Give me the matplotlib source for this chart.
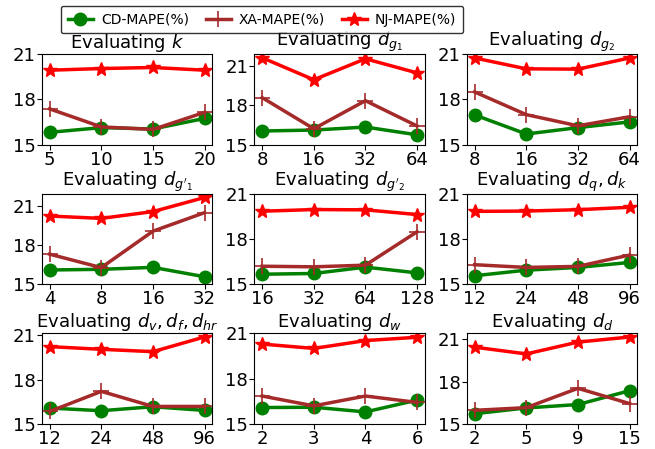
import numpy as np
import matplotlib
matplotlib.use('Agg')
import matplotlib.pyplot as plt

# hyper-parameter values for each panel
titles = ['Evaluating $k$', 'Evaluating $d_{g_1}$', 'Evaluating $d_{g_2}$',
          "Evaluating $d_{g'_1}$", "Evaluating $d_{g'_2}$", 'Evaluating $d_q, d_k$',
          'Evaluating $d_v, d_f, d_{hr}$', 'Evaluating $d_w$', 'Evaluating $d_d$']
xlabels = [['5', '10', '15', '20'],
           ['8', '16', '32', '64'],
           ['8', '16', '32', '64'],
           ['4', '8', '16', '32'],
           ['16', '32', '64', '128'],
           ['12', '24', '48', '96'],
           ['12', '24', '48', '96'],
           ['2', '3', '4', '6'],
           ['2', '5', '9', '15']]

# MAPE (%) per city
cd_mape = [[15.81, 16.12, 16.03, 16.73],
           [16.03, 16.10, 16.33, 15.74],
           [16.96, 15.70, 16.12, 16.50],
           [16.09, 16.14, 16.29, 15.57],
           [15.66, 15.71, 16.13, 15.75],
           [15.56, 15.93, 16.11, 16.44],
           [16.07, 15.89, 16.16, 15.91],
           [16.08, 16.10, 15.79, 16.57],
           [15.72, 16.13, 16.37, 17.35]]
xa_mape = [[17.36, 16.17, 16.00, 17.13],
           [18.56, 16.20, 18.33, 16.41],
           [18.48, 16.98, 16.24, 16.84],
           [17.30, 16.27, 19.06, 20.48],
           [16.19, 16.15, 16.26, 18.47],
           [16.29, 16.11, 16.18, 16.93],
           [15.84, 17.20, 16.18, 16.18],
           [16.84, 16.19, 16.84, 16.42],
           [15.96, 16.15, 17.52, 16.44]]
nj_mape = [[19.92, 20.03, 20.10, 19.92],
           [21.59, 19.92, 21.51, 20.44],
           [20.73, 20.01, 19.99, 20.73],
           [20.22, 20.04, 20.56, 21.64],
           [19.83, 19.94, 19.92, 19.61],
           [19.82, 19.84, 19.93, 20.09],
           [20.23, 20.05, 19.89, 20.89],
           [20.28, 19.99, 20.51, 20.73],
           [20.44, 19.96, 20.80, 21.16]]

fig, axes = plt.subplots(3, 3, figsize=(6.55, 4.49), dpi=100)
fig.subplots_adjust(left=0.064, right=0.973, bottom=0.056, top=0.88,
                    wspace=0.247, hspace=0.54)

for i, ax in enumerate(axes.flat):
    x = np.arange(len(xlabels[i]))
    l1, = ax.plot(x, cd_mape[i], color='green', marker='o', markersize=9,
                  linewidth=2.5, label='CD-MAPE(%)')
    l2, = ax.plot(x, xa_mape[i], color='brown', marker='+', markersize=11,
                  markeredgewidth=1.2, linewidth=2.5, label='XA-MAPE(%)')
    l3, = ax.plot(x, nj_mape[i], color='red', marker='*', markersize=10,
                  linewidth=2.5, label='NJ-MAPE(%)')
    ax.set_title(titles[i], fontsize=13, pad=3)
    ax.set_xticks(x)
    ax.set_xticklabels(xlabels[i])
    ax.set_yticks([15, 18, 21])
    ax.tick_params(labelsize=13, pad=1)
    top = ax.get_ylim()[1]
    ax.set_ylim(15, max(21, top))

fig.legend(handles=[l1, l2, l3], loc='upper center', bbox_to_anchor=(0.4, 1.003),
           ncol=3, fontsize=10, frameon=True, edgecolor='black', fancybox=True,
           handlelength=1.8, handletextpad=0.6, columnspacing=1.2, borderpad=0.5)

fig.savefig('out.png', dpi=100)
